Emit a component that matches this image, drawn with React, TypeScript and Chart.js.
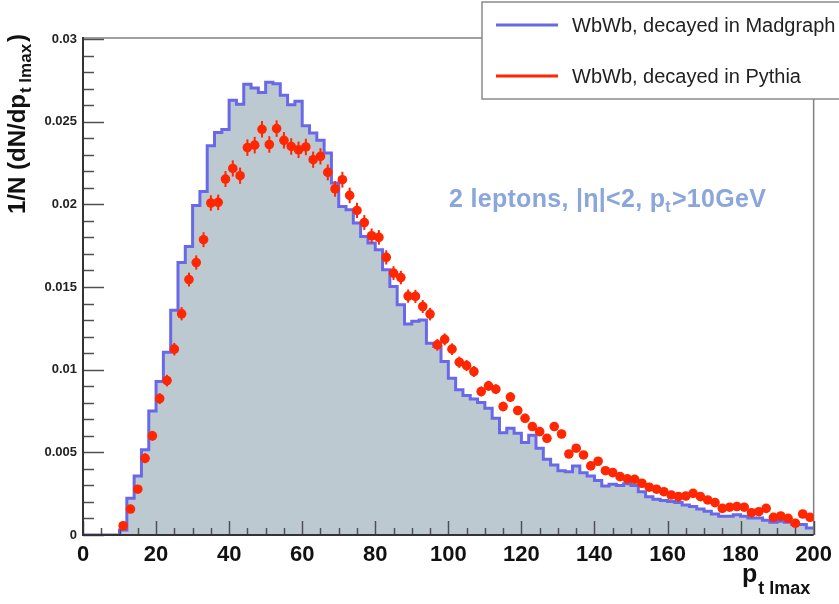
import { useEffect, useRef } from 'react';
import { Chart, registerables } from 'chart.js';

Chart.register(...registerables);

const X_MIN = 0;
const X_MAX = 200;
const Y_MIN = 0;
const Y_MAX = 0.03;
const BIN_WIDTH = 2;
const X_MAJOR_STEP = 20;
const X_MINOR_STEP = 5;
const Y_MAJOR_STEP = 0.005;
const Y_MINOR_STEP = 0.001;

// WbWb, decayed in Madgraph: histogram contents per 2 GeV bin (0..200)
const madgraph = [
  0, 0, 0, 0, 0, 0.0003, 0.00222, 0.00357, 0.00515, 0.0075,
  0.00928, 0.01106, 0.0136, 0.01648, 0.01745, 0.01993, 0.02078, 0.02355, 0.02435, 0.02452,
  0.02629, 0.02605, 0.02726, 0.02704, 0.02677, 0.02738, 0.0273, 0.0266, 0.02603, 0.02623,
  0.02476, 0.02432, 0.02387, 0.0231, 0.02129, 0.01987, 0.01967, 0.01887, 0.01806, 0.01766,
  0.01725, 0.01604, 0.01503, 0.01392, 0.01276, 0.01293, 0.01301, 0.0116, 0.0114, 0.01049,
  0.00948, 0.00878, 0.00843, 0.00823, 0.00801, 0.00767, 0.00706, 0.00619, 0.00646, 0.00616,
  0.00559, 0.00603, 0.00525, 0.00458, 0.00424, 0.00389, 0.00383, 0.00418, 0.00377, 0.00357,
  0.0033, 0.00297, 0.00307, 0.003, 0.0031, 0.003, 0.00262, 0.00232, 0.00216, 0.00208,
  0.00202, 0.00196, 0.00182, 0.00172, 0.00157, 0.00143, 0.00127, 0.00113, 0.00113, 0.00123,
  0.00113, 0.00103, 0.00103, 0.00089, 0.00077, 0.00083, 0.00077, 0.00063, 0.00063, 0.00043,
];

// WbWb, decayed in Pythia: points at bin centres
const pythia = [
  null, null, null, null, null, 0.00056, 0.00157, 0.00277, 0.00464, 0.006,
  0.00825, 0.00934, 0.01124, 0.01338, 0.01545, 0.01648, 0.01786, 0.02008, 0.02012, 0.02153,
  0.02217, 0.02173, 0.02343, 0.02358, 0.02454, 0.02362, 0.02458, 0.02387, 0.0235, 0.0233,
  0.02347, 0.0227, 0.0229, 0.02193, 0.02093, 0.02149, 0.02054, 0.01963, 0.0189, 0.0181,
  0.018, 0.01679, 0.01584, 0.01557, 0.01445, 0.01443, 0.01382, 0.01336, 0.0115, 0.01183,
  0.01124, 0.01045, 0.01025, 0.00989, 0.00868, 0.00902, 0.00882, 0.00777, 0.00834, 0.00753,
  0.00706, 0.00656, 0.00625, 0.00585, 0.00656, 0.00611, 0.0049, 0.00525, 0.00484, 0.00418,
  0.00446, 0.00389, 0.00377, 0.00353, 0.0034, 0.00337, 0.00313, 0.00289, 0.00277, 0.00262,
  0.00242, 0.00232, 0.00236, 0.00252, 0.00232, 0.00212, 0.00196, 0.00161, 0.00168, 0.00172,
  0.00168, 0.00135, 0.00141, 0.00161, 0.00107, 0.00115, 0.00101, 0.00071, 0.00127, 0.00107,
];

const pythiaErr = [
  null, null, null, null, null, 0.00012, 0.0002, 0.00025, 0.0003, 0.0003,
  0.00033, 0.00035, 0.00038, 0.0004, 0.00042, 0.00043, 0.00045, 0.00047, 0.00047, 0.00048,
  0.00049, 0.00049, 0.0005, 0.0005, 0.0005, 0.0005, 0.0005, 0.0005, 0.0005, 0.0005,
  0.0005, 0.00049, 0.00049, 0.00048, 0.00047, 0.00048, 0.00047, 0.00046, 0.00045, 0.00044,
  0.00044, 0.00043, 0.00042, 0.00041, 0.0004, 0.0004, 0.00039, 0.00038, 0.00035, 0.00036,
  0.00035, 0.00034, 0.00033, 0.00033, 0.0003, 0.00031, 0.0003, 0.00029, 0.0003, 0.00028,
  0.00027, 0.00026, 0.00026, 0.00025, 0.00026, 0.00025, 0.00023, 0.00023, 0.00022, 0.00021,
  0.00022, 0.0002, 0.0002, 0.0002, 0.0002, 0.0002, 0.00019, 0.00018, 0.00018, 0.00018,
  0.00017, 0.00017, 0.00017, 0.00017, 0.00017, 0.00016, 0.00015, 0.00014, 0.00014, 0.00014,
  0.00014, 0.00013, 0.00013, 0.00014, 0.00012, 0.00012, 0.00011, 0.0001, 0.00012, 0.00011,
];

const legendLabels = ['WbWb, decayed in Madgraph', 'WbWb, decayed in Pythia'];
const annotationParts = ['2 leptons, |η|<2, p', 't', '>10GeV'];
const yTitleParts = ['1/N (dN/dp', 't lmax', ')'];
const xTitleParts = ['p', 't lmax'];

const BLUE = 'rgb(104,104,232)';
const RED = 'rgb(255,38,0)';
const FILL = 'rgb(189,201,209)';
const FONT = '"Liberation Sans", Arial, Helvetica, sans-serif';

const histPoints = madgraph
  .map((v, i) => ({ x: X_MIN + i * BIN_WIDTH, y: v }))
  .concat([{ x: X_MAX, y: madgraph[madgraph.length - 1] }]);
const pythiaPoints = pythia.map((v, i) => ({ x: X_MIN + (i + 0.5) * BIN_WIDTH, y: v }));

const rootPlugin = {
  id: 'rootStyle',
  beforeDatasetDraw(chart: any, args: any) {
    if (args.index !== 0) return;
    const ctx = chart.ctx;
    const xs = chart.scales.x;
    const ys = chart.scales.y;
    const a = chart.chartArea;
    ctx.save();
    // frame: top and right
    ctx.strokeStyle = '#808080';
    ctx.lineWidth = 1.5;
    ctx.beginPath();
    ctx.moveTo(a.left, a.top - 1);
    ctx.lineTo(a.right, a.top - 1);
    ctx.lineTo(a.right, a.bottom);
    ctx.stroke();
    // ticks
    ctx.strokeStyle = '#505050';
    ctx.lineWidth = 1.5;
    const nx = Math.round((X_MAX - X_MIN) / X_MINOR_STEP);
    for (let k = 0; k <= nx; k++) {
      const v = X_MIN + k * X_MINOR_STEP;
      const major = Math.abs(v / X_MAJOR_STEP - Math.round(v / X_MAJOR_STEP)) < 1e-6;
      const px = Math.round(xs.getPixelForValue(v)) + 0.5;
      ctx.beginPath();
      ctx.moveTo(px, a.bottom);
      ctx.lineTo(px, a.bottom - (major ? 14 : 7));
      ctx.stroke();
    }
    const ny = Math.round((Y_MAX - Y_MIN) / Y_MINOR_STEP);
    for (let k = 0; k <= ny; k++) {
      const v = Y_MIN + k * Y_MINOR_STEP;
      const major = Math.abs(v / Y_MAJOR_STEP - Math.round(v / Y_MAJOR_STEP)) < 1e-6;
      const py = Math.round(ys.getPixelForValue(v)) + 0.5;
      ctx.beginPath();
      ctx.moveTo(a.left, py);
      ctx.lineTo(a.left + (major ? 21 : 11), py);
      ctx.stroke();
    }
    // axis lines
    ctx.strokeStyle = '#333';
    ctx.lineWidth = 2;
    ctx.beginPath();
    ctx.moveTo(a.left, a.top - 2);
    ctx.lineTo(a.left, a.bottom);
    ctx.lineTo(a.right, a.bottom);
    ctx.stroke();
    // error bars for Pythia points
    ctx.strokeStyle = RED;
    ctx.lineWidth = 2;
    pythia.forEach((v, i) => {
      const e = pythiaErr[i];
      if (v == null || e == null) return;
      const px = xs.getPixelForValue(X_MIN + (i + 0.5) * BIN_WIDTH);
      ctx.beginPath();
      ctx.moveTo(px, ys.getPixelForValue(v - e));
      ctx.lineTo(px, ys.getPixelForValue(v + e));
      ctx.stroke();
    });
    ctx.restore();
  },
  afterDraw(chart: any) {
    const ctx = chart.ctx;
    ctx.save();
    // legend box
    ctx.fillStyle = '#fff';
    ctx.fillRect(482, 2, 370, 97);
    ctx.strokeStyle = '#8a8a8a';
    ctx.lineWidth = 1.5;
    ctx.strokeRect(482, 2, 370, 97);
    const rows = [
      { y: 25, color: BLUE, label: legendLabels[0] },
      { y: 76, color: RED, label: legendLabels[1] },
    ];
    rows.forEach((r) => {
      ctx.strokeStyle = r.color;
      ctx.lineWidth = 3;
      ctx.beginPath();
      ctx.moveTo(496, r.y);
      ctx.lineTo(558, r.y);
      ctx.stroke();
      ctx.fillStyle = '#222';
      ctx.font = `20px ${FONT}`;
      ctx.textBaseline = 'middle';
      ctx.textAlign = 'left';
      ctx.fillText(r.label, 572, r.y + 1);
    });
    // annotation
    ctx.fillStyle = 'rgb(138,166,218)';
    ctx.textBaseline = 'alphabetic';
    (ctx as any).letterSpacing = '0.3px';
    ctx.font = `bold 25px ${FONT}`;
    let ax = 449;
    const ay = 207;
    ctx.fillText(annotationParts[0], ax, ay);
    ax += ctx.measureText(annotationParts[0]).width;
    ctx.font = `bold 16px ${FONT}`;
    ctx.fillText(annotationParts[1], ax, ay + 5);
    ax += ctx.measureText(annotationParts[1]).width + 1;
    ctx.font = `bold 25px ${FONT}`;
    ctx.fillText(annotationParts[2], ax, ay);
    (ctx as any).letterSpacing = '0px';
    // x title
    ctx.fillStyle = '#111';
    ctx.font = `bold 25px ${FONT}`;
    ctx.fillText(xTitleParts[0], 742, 582);
    const pw = ctx.measureText(xTitleParts[0]).width;
    ctx.font = `bold 18px ${FONT}`;
    ctx.fillText(xTitleParts[1], 742 + pw + 1, 594);
    // y title (rotated)
    ctx.translate(25, 214);
    ctx.rotate(-Math.PI / 2);
    ctx.font = `bold 24px ${FONT}`;
    let tx = 0;
    ctx.fillText(yTitleParts[0], tx, 0);
    tx += ctx.measureText(yTitleParts[0]).width;
    ctx.font = `bold 17px ${FONT}`;
    ctx.fillText(yTitleParts[1], tx + 1, 6);
    tx += ctx.measureText(yTitleParts[1]).width + 3;
    ctx.font = `bold 24px ${FONT}`;
    ctx.fillText(yTitleParts[2], tx, 0);
    ctx.restore();
  },
};

export default function App() {
  const ref = useRef<HTMLCanvasElement | null>(null);
  useEffect(() => {
    if (!ref.current) return;
    const chart = new Chart(ref.current, {
      type: 'scatter',
      data: {
        datasets: [
          {
            type: 'scatter',
            label: legendLabels[1],
            data: pythiaPoints as any,
            pointRadius: 4.8,
            pointBackgroundColor: RED,
            pointBorderWidth: 0,
            showLine: false,
          },
          {
            type: 'line',
            label: legendLabels[0],
            data: histPoints as any,
            stepped: 'before',
            borderColor: BLUE,
            borderWidth: 3,
            backgroundColor: FILL,
            fill: 'origin',
            pointRadius: 0,
            tension: 0,
          } as any,
        ],
      },
      plugins: [rootPlugin],
      options: {
        animation: false,
        responsive: false,
        devicePixelRatio: 1,
        events: [],
        layout: { padding: { left: 0, top: 39, right: 22, bottom: 0 } },
        plugins: {
          legend: { display: false },
          tooltip: { enabled: false },
        },
        scales: {
          x: {
            type: 'linear',
            min: X_MIN,
            max: X_MAX,
            grid: { display: false, drawTicks: false },
            border: { display: false },
            ticks: {
              stepSize: X_MAJOR_STEP,
              padding: 7,
              color: '#111',
              font: { family: FONT, size: 22, weight: 'bold' },
              maxRotation: 0,
            },
            afterFit: (s: any) => {
              s.height = 69;
            },
          },
          y: {
            type: 'linear',
            min: Y_MIN,
            max: Y_MAX,
            grid: { display: false, drawTicks: false },
            border: { display: false },
            ticks: {
              stepSize: Y_MAJOR_STEP,
              padding: 6,
              color: '#222',
              font: { family: FONT, size: 13, weight: 'bold' },
              callback: (v: any) => String(Number(Number(v).toFixed(3))),
            },
            afterFit: (s: any) => {
              s.width = 83;
            },
          },
        },
      } as any,
    });
    return () => chart.destroy();
  }, []);
  return (
    <div style={{ position: 'absolute', left: 0, top: 0, width: 839, height: 604, background: '#fff' }}>
      <canvas ref={ref} width={839} height={604} style={{ display: 'block' }} />
    </div>
  );
}
